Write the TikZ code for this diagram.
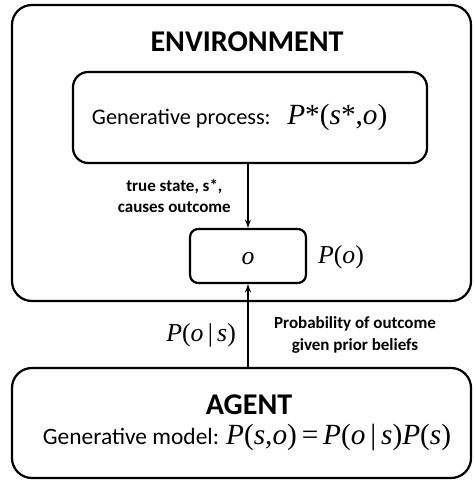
\documentclass[tikz,border=0pt]{standalone}
\usepackage{fontspec}
\setmainfont{Carlito}
\newfontfamily\tms{Liberation Serif}
\usetikzlibrary{arrows.meta,positioning}
\newcommand\mt[1]{{\fontsize{22}{26}\selectfont\tms #1}}
\newcommand\mtb[1]{{\fontsize{25}{29}\selectfont\tms #1}}
\newcommand\iv[1]{{\itshape #1}}
\tikzset{
  bigbox/.style={draw,line width=1.9pt,rounded corners=17pt,fill=white,inner sep=0pt},
  box/.style={draw,line width=1.9pt,rounded corners=13pt,fill=white,inner sep=0pt},
  obox/.style={draw,line width=1.9pt,rounded corners=7pt,fill=white,inner sep=0pt},
  ttl/.style={font=\fontsize{25.7}{30}\selectfont\bfseries},
  lbl/.style={font=\fontsize{14.5}{18}\selectfont\bfseries,align=center,inner sep=0pt},
  nyil/.style={line width=1.2pt,-{Stealth[length=7pt,width=5pt]}},
}
\begin{document}
\begin{tikzpicture}[x=0.03cm,y=-0.03cm,font=\fontsize{19}{23}\selectfont]
  \useasboundingbox[fill=white] (0,0) rectangle (473,480);
  \node[bigbox,minimum width=13.77cm,minimum height=8.88cm] (env) at (241.5,153) {};
  \node[ttl] (envname) at (247,42) {ENVIRONMENT};
  \node[box,minimum width=10.62cm,minimum height=2.73cm] (proc) at (250,117.5)
    {Generative process:\hspace{0.5cm}\mtb{\iv{P}*(\iv{s}*,\iv{o})}\hspace*{0.62cm}};
  \node[obox,minimum width=3.48cm,minimum height=1.62cm,text height=14pt,text depth=0pt]
    (obs) at (248,256) {\mt{\iv{o}}};
  \node[anchor=west] (po) at (314,257) {\mt{\iv{P}(\iv{o})}};
  \node[bigbox,minimum width=13.77cm,minimum height=3.3cm] (agent) at (241.5,423) {};
  \node[ttl] (agentname) at (249,405) {AGENT};
  \node[font=\fontsize{20}{24}\selectfont] (model) at (247,437)
    {Generative model: \mtb{\iv{P}(\iv{s},\iv{o})\,=\,\iv{P}(\iv{o}\,|\,\iv{s})\iv{P}(\iv{s})}};
  \draw[nyil] (obs.north |- proc.south) -- (obs.north);
  \draw[nyil] (obs.south |- agent.north) -- (obs.south);
  \node[lbl,anchor=east] (cause) at (231,196) {true state, s*,\\causes outcome};
  \node[anchor=east] (pos) at (240,335) {\mt{\iv{P}(\iv{o}\,|\,\iv{s})}};
  \node[lbl] (prob) at (355,335) {Probability of outcome\\given prior beliefs};
\end{tikzpicture}
\end{document}
